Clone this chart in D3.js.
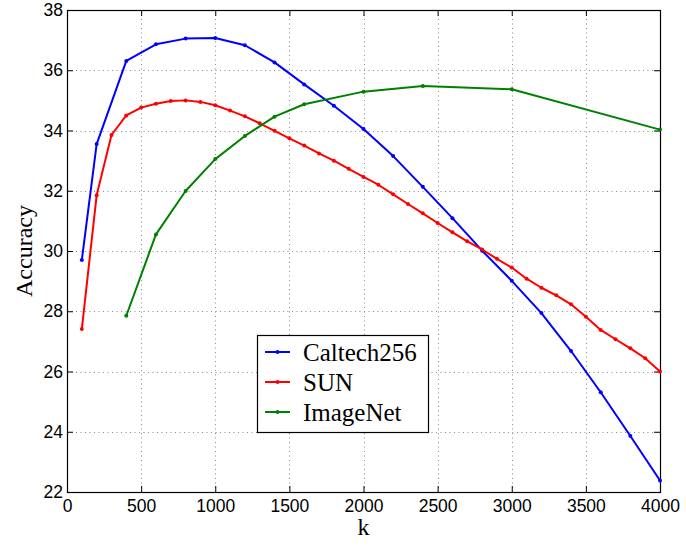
<!DOCTYPE html>
<html>
<head>
<meta charset="utf-8">
<script src="https://cdn.jsdelivr.net/npm/d3@7"></script>
<style>
  body { margin: 0; background: #fff; }
</style>
</head>
<body>
<div id="chart"></div>
<script>
// Data
var seriesNames = ["Caltech256", "SUN", "ImageNet"];
var seriesColors = ["#0000ff", "#ff0000", "#008000"];

var caltechK = [100, 200, 400, 600, 800, 1000, 1200, 1400, 1600, 1800, 2000,
    2200, 2400, 2600, 2800, 3000, 3200, 3400, 3600, 3800, 4000];
var caltechAcc = [29.70, 33.55, 36.31, 36.86, 37.05, 37.07, 36.83, 36.26, 35.53, 34.82, 34.05,
    33.15, 32.13, 31.09, 30.01, 29.01, 27.94, 26.68, 25.31, 23.86, 22.38];

var sunK = [100, 200, 300, 400, 500, 600, 700, 800, 900, 1000,
    1100, 1200, 1300, 1400, 1500, 1600, 1700, 1800, 1900, 2000,
    2100, 2200, 2300, 2400, 2500, 2600, 2700, 2800, 2900, 3000,
    3100, 3200, 3300, 3400, 3500, 3600, 3700, 3800, 3900, 4000];
var sunAcc = [27.41, 31.85, 33.85, 34.50, 34.76, 34.89, 34.98, 35.00, 34.95, 34.84,
    34.66, 34.47, 34.24, 33.99, 33.74, 33.50, 33.24, 33.00, 32.73, 32.46,
    32.20, 31.88, 31.56, 31.25, 30.93, 30.62, 30.32, 30.05, 29.74, 29.45,
    29.08, 28.78, 28.53, 28.23, 27.82, 27.38, 27.07, 26.77, 26.44, 26.00];

var imagenetK = [400, 600, 800, 1000, 1200, 1400, 1600, 2000, 2400, 3000, 4000];
var imagenetAcc = [27.85, 30.55, 31.99, 33.05, 33.82, 34.46, 34.87, 35.29, 35.48, 35.37, 34.03];

var xTicks = [0, 500, 1000, 1500, 2000, 2500, 3000, 3500, 4000];
var yTicks = [22, 24, 26, 28, 30, 32, 34, 36, 38];

var sansFont = "'Liberation Sans', Arial, sans-serif";
var serifFont = "'Liberation Serif', 'Times New Roman', serif";

// SVG area
var svgWidth = 686;
var svgHeight = 550;
var chartMargin = { top: 10, right: 26, bottom: 58, left: 67 };
var chartWidth = svgWidth - chartMargin.left - chartMargin.right;
var chartHeight = svgHeight - chartMargin.top - chartMargin.bottom;

var svg = d3.select("#chart")
    .append("svg")
    .attr("width", svgWidth)
    .attr("height", svgHeight);

var chartGroup = svg.append("g")
    .attr("transform", `translate(${chartMargin.left}, ${chartMargin.top})`);

var xScale = d3.scaleLinear().domain([0, 4000]).range([0, chartWidth]);
var yScale = d3.scaleLinear().domain([22, 38]).range([chartHeight, 0]);

// dotted grid
var grid = chartGroup.append("g")
    .attr("stroke", "#8c8c8c")
    .attr("stroke-width", 1)
    .attr("stroke-dasharray", "1,3.5");
grid.selectAll(".gx")
    .data(xTicks.slice(1, -1))
    .enter()
    .append("line")
    .attr("x1", d => Math.round(xScale(d)) + 0.5)
    .attr("x2", d => Math.round(xScale(d)) + 0.5)
    .attr("y1", 0)
    .attr("y2", chartHeight);
grid.selectAll(".gy")
    .data(yTicks.slice(1, -1))
    .enter()
    .append("line")
    .attr("y1", d => Math.round(yScale(d)) + 0.5)
    .attr("y2", d => Math.round(yScale(d)) + 0.5)
    .attr("x1", 0)
    .attr("x2", chartWidth);

// axes, ticks pointing inward on all four sides
function styleAxis(g, showLabels) {
    g.select(".domain").remove();
    g.attr("font-family", sansFont).attr("font-size", 17.5);
    g.selectAll(".tick line").attr("stroke", "#000");
    if (showLabels) {
        g.selectAll(".tick text").attr("fill", "#000");
    } else {
        g.selectAll(".tick text").remove();
    }
}

chartGroup.append("g")
    .attr("transform", `translate(0, ${chartHeight})`)
    .call(d3.axisBottom(xScale).tickValues(xTicks).tickSize(-6).tickPadding(8).tickFormat(d3.format("d")))
    .call(g => styleAxis(g, true));

chartGroup.append("g")
    .call(d3.axisLeft(yScale).tickValues(yTicks).tickSize(-6).tickPadding(4).tickFormat(d3.format("d")))
    .call(g => styleAxis(g, true));

chartGroup.append("g")
    .call(d3.axisTop(xScale).tickValues(xTicks).tickSize(-6))
    .call(g => styleAxis(g, false));

chartGroup.append("g")
    .attr("transform", `translate(${chartWidth}, 0)`)
    .call(d3.axisRight(yScale).tickValues(yTicks).tickSize(-6))
    .call(g => styleAxis(g, false));

// box
chartGroup.append("rect")
    .attr("x", 0.5)
    .attr("y", 0.5)
    .attr("width", chartWidth)
    .attr("height", chartHeight)
    .attr("fill", "none")
    .attr("stroke", "#000")
    .attr("stroke-width", 1.2);

// series
var series = [
    { name: seriesNames[0], color: seriesColors[0], k: caltechK, acc: caltechAcc },
    { name: seriesNames[1], color: seriesColors[1], k: sunK, acc: sunAcc },
    { name: seriesNames[2], color: seriesColors[2], k: imagenetK, acc: imagenetAcc }
];

var line = d3.line()
    .x(d => xScale(d[0]))
    .y(d => yScale(d[1]));

series.forEach(function (s) {
    var pts = s.k.map((k, i) => [k, s.acc[i]]);
    chartGroup.append("path")
        .datum(pts)
        .attr("d", line)
        .attr("fill", "none")
        .attr("stroke", s.color)
        .attr("stroke-width", 2)
        .attr("stroke-linejoin", "round");
    chartGroup.selectAll(null)
        .data(pts)
        .enter()
        .append("circle")
        .attr("cx", d => xScale(d[0]))
        .attr("cy", d => yScale(d[1]))
        .attr("r", 2)
        .attr("fill", s.color);
});

// axes labels
chartGroup.append("text")
    .attr("transform", `translate(${32 - chartMargin.left}, ${chartHeight / 2}) rotate(-90)`)
    .attr("text-anchor", "middle")
    .attr("font-family", serifFont)
    .attr("font-size", 24)
    .text("Accuracy");

chartGroup.append("text")
    .attr("x", chartWidth / 2)
    .attr("y", chartHeight + 43)
    .attr("text-anchor", "middle")
    .attr("font-family", serifFont)
    .attr("font-size", 24)
    .text("k");

// legend
var legend = svg.append("g").attr("transform", "translate(257, 335)");
legend.append("rect")
    .attr("x", 0.5)
    .attr("y", 0.5)
    .attr("width", 171)
    .attr("height", 97)
    .attr("fill", "#fff")
    .attr("stroke", "#000")
    .attr("stroke-width", 1.2);

var rows = legend.selectAll(".row")
    .data(series)
    .enter()
    .append("g")
    .attr("transform", (d, i) => `translate(0, ${17 + i * 30})`);
rows.append("line")
    .attr("x1", 8)
    .attr("x2", 33)
    .attr("stroke", d => d.color)
    .attr("stroke-width", 2);
rows.append("circle")
    .attr("cx", 20.5)
    .attr("r", 2)
    .attr("fill", d => d.color);
rows.append("text")
    .attr("x", 46)
    .attr("y", 8.5)
    .attr("font-family", serifFont)
    .attr("font-size", 25)
    .attr("fill", "#000")
    .text(d => d.name);
</script>
</body>
</html>
